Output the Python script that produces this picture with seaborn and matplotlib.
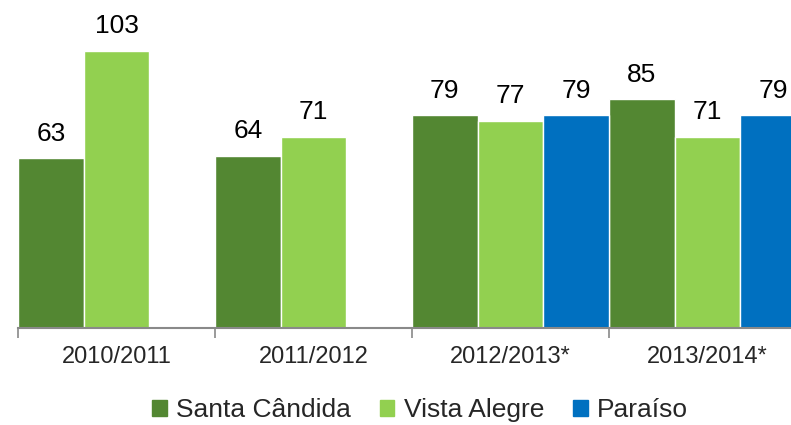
import numpy as np
import pandas as pd
import matplotlib
matplotlib.use("Agg")
import matplotlib.pyplot as plt
import seaborn as sns

# dados
periodos = ["2010/2011", "2011/2012", "2012/2013*", "2013/2014*"]
santa_candida = [63, 64, 79, 85]
vista_alegre = [103, 71, 77, 71]
paraiso = [np.nan, np.nan, 79, 79]
escolas = ["Santa Cândida", "Vista Alegre", "Paraíso"]
cores = ["#538732", "#92D050", "#0070C0"]

df = pd.DataFrame({
    "periodo": periodos * 3,
    "escola": [e for e in escolas for _ in periodos],
    "valor": santa_candida + vista_alegre + paraiso,
})

sns.set_theme(style="white")
plt.rcParams["font.family"] = ["Liberation Sans", "DejaVu Sans"]

fig = plt.figure(figsize=(7.91, 4.25), dpi=100)
ax = fig.add_axes([18 / 791, 97 / 425, 788 / 791, 323 / 425])

sns.barplot(data=df, x="periodo", y="valor", hue="escola", hue_order=escolas,
            order=periodos, palette=cores, saturation=1, width=1, gap=0,
            dodge=True, edgecolor="white", linewidth=1, ax=ax, legend=True)

for c in ax.containers:
    ax.bar_label(c, fmt="%.0f", padding=9, fontsize=19, color="black")

ax.set_ylim(0, 120)
ax.set_xlim(-0.5, 3.5)
ax.set_xlabel("")
ax.set_ylabel("")
ax.set_yticks([])
for s in ["top", "right", "left"]:
    ax.spines[s].set_visible(False)
ax.spines["bottom"].set_color("#898989")
ax.spines["bottom"].set_linewidth(1.5)

# marcas entre as categorias, rótulos no centro
ax.set_xticks(np.arange(-0.5, 4.0, 1.0))
ax.set_xticklabels([])
ax.set_xticks(np.arange(4), minor=True)
ax.set_xticklabels(periodos, minor=True, fontsize=17)
ax.tick_params(axis="x", which="major", bottom=True, length=7, width=1.2,
               color="#898989", direction="out")
ax.tick_params(axis="x", which="minor", bottom=True, length=0, pad=13)

ax.get_legend().remove()
handles = [plt.Rectangle((0, 0), 1, 1, color=c) for c in cores]
fig.legend(handles, escolas, loc="center", bbox_to_anchor=(420 / 791, 15 / 425),
           ncol=3, frameon=False, fontsize=19, handlelength=0.55, handleheight=0.55,
           handletextpad=0.35, columnspacing=1.1)

fig.savefig("out.png", dpi=100)
